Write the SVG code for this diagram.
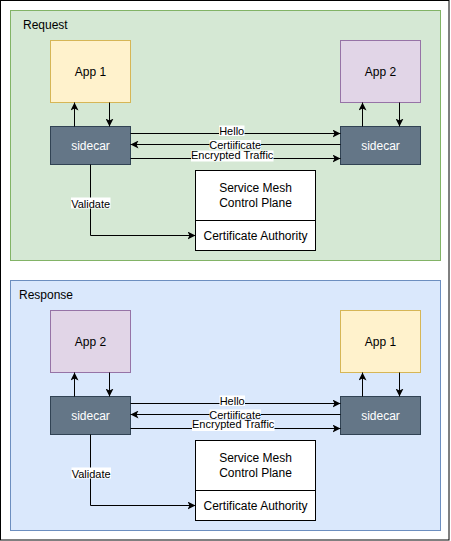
<svg xmlns="http://www.w3.org/2000/svg" width="451" height="541" viewBox="0 0 451 541">
  <defs>
    <style>
      text { font-family: "Liberation Sans", Arial, sans-serif; fill: #000; }
      .t12 { font-size: 12px; }
      .t11 { font-size: 11px; }
      .mid { text-anchor: middle; }
      .app1 { fill: #fff2cc; stroke: #d6b656; stroke-width: 1; }
      .app2 { fill: #e1d5e7; stroke: #9673a6; stroke-width: 1; }
      .side { fill: #647687; stroke: #314354; stroke-width: 1; }
      .sidet { fill: #ffffff; }
      .box { fill: #ffffff; stroke: #000000; stroke-width: 1; }
      .edge { fill: none; stroke: #000000; stroke-width: 1; marker-end: url(#arr); }
      .lbg { fill: #ffffff; }
    </style>
    <marker id="arr" markerUnits="userSpaceOnUse" markerWidth="9" markerHeight="8" refX="8" refY="4" orient="auto">
      <path d="M0,0 L8,4 L0,8 L2,4 Z" fill="#000000"/>
    </marker>
  </defs>

  <rect x="0.5" y="0.5" width="448.5" height="539.5" fill="#ffffff" stroke="#000000"/>

  <!-- Request section -->
  <g id="request">
    <rect x="10.5" y="10.5" width="430" height="250" fill="#d5e8d4" stroke="#82b366"/>
    <text class="t12" x="23" y="29">Request</text>
  </g>
  <g id="req-app1">
    <rect class="app1" x="50.5" y="40.5" width="80" height="62"/>
    <text class="t12 mid" x="90.5" y="75.5">App 1</text>
  </g>
  <g id="req-app2">
    <rect class="app2" x="340.5" y="40.5" width="80" height="62"/>
    <text class="t12 mid" x="380.5" y="75.5">App 2</text>
  </g>
  <g id="req-sidecar1">
    <rect class="side" x="50.5" y="126.5" width="80" height="38"/>
    <text class="t12 mid sidet" x="90.5" y="149.5">sidecar</text>
  </g>
  <g id="req-sidecar2">
    <rect class="side" x="340.5" y="126.5" width="80" height="38"/>
    <text class="t12 mid sidet" x="380.5" y="149.5">sidecar</text>
  </g>
  <g id="req-controlplane">
    <rect class="box" x="195.5" y="170.5" width="120" height="80"/>
    <line x1="195.5" y1="220.5" x2="315.5" y2="220.5" stroke="#000000"/>
    <text class="t12 mid" x="255.5" y="192">Service Mesh</text>
    <text class="t12 mid" x="255.5" y="206.5">Control Plane</text>
    <text class="t12 mid" x="255.5" y="239.5">Certificate Authority</text>
  </g>

  <!-- Response section -->
  <g id="response">
    <rect x="10.5" y="280.5" width="430" height="250" fill="#dae8fc" stroke="#6c8ebf"/>
    <text class="t12" x="19" y="298.5">Response</text>
  </g>
  <g id="resp-app2">
    <rect class="app2" x="50.5" y="310.5" width="80" height="62"/>
    <text class="t12 mid" x="90.5" y="345.5">App 2</text>
  </g>
  <g id="resp-app1">
    <rect class="app1" x="340.5" y="310.5" width="80" height="62"/>
    <text class="t12 mid" x="380.5" y="345.5">App 1</text>
  </g>
  <g id="resp-sidecar1">
    <rect class="side" x="50.5" y="396.5" width="80" height="38"/>
    <text class="t12 mid sidet" x="90.5" y="419.5">sidecar</text>
  </g>
  <g id="resp-sidecar2">
    <rect class="side" x="340.5" y="396.5" width="80" height="38"/>
    <text class="t12 mid sidet" x="380.5" y="419.5">sidecar</text>
  </g>
  <g id="resp-controlplane">
    <rect class="box" x="195.5" y="440.5" width="120" height="80"/>
    <line x1="195.5" y1="490.5" x2="315.5" y2="490.5" stroke="#000000"/>
    <text class="t12 mid" x="255.5" y="462">Service Mesh</text>
    <text class="t12 mid" x="255.5" y="476.5">Control Plane</text>
    <text class="t12 mid" x="255.5" y="509.5">Certificate Authority</text>
  </g>

  <!-- Connectors -->
  <g id="connectors">
    <!-- Request -->
    <path class="edge" d="M74.5,126.5 L74.5,102.5"/>
    <path class="edge" d="M109.5,102.5 L109.5,126.5"/>
    <path class="edge" d="M362.5,126.5 L362.5,102.5"/>
    <path class="edge" d="M399.5,102.5 L399.5,126.5"/>
    <path class="edge" d="M130.5,133.5 L340.5,133.5"/>
    <path class="edge" d="M340.5,144.5 L130.5,144.5"/>
    <path class="edge" d="M130.5,158.5 L340.5,158.5"/>
    <path class="edge" d="M90.5,164.5 L90.5,235.5 L195.5,235.5"/>

    <rect class="lbg" x="219" y="125.5" width="25.5" height="10.5"/>
    <text class="t11 mid" x="231.7" y="135">Hello</text>
    <rect class="lbg" x="209.5" y="140" width="51.5" height="9.5"/>
    <text class="t11 mid" x="235.2" y="149">Certiificate</text>
    <rect class="lbg" x="191" y="150.5" width="82.5" height="11"/>
    <text class="t11 mid" x="232.2" y="158.5">Encrypted Traffic</text>
    <rect class="lbg" x="71" y="197.5" width="39.5" height="11"/>
    <text class="t11 mid" x="90.7" y="207.5">Validate</text>

    <!-- Response -->
    <path class="edge" d="M74.5,396.5 L74.5,372.5"/>
    <path class="edge" d="M109.5,372.5 L109.5,396.5"/>
    <path class="edge" d="M362.5,396.5 L362.5,372.5"/>
    <path class="edge" d="M399.5,372.5 L399.5,396.5"/>
    <path class="edge" d="M130.5,403.5 L340.5,403.5"/>
    <path class="edge" d="M340.5,414.5 L130.5,414.5"/>
    <path class="edge" d="M130.5,428.5 L340.5,428.5"/>
    <path class="edge" d="M90.5,434.5 L90.5,505.5 L195.5,505.5"/>

    <rect class="lbg" x="219.5" y="395.5" width="25.5" height="10.5"/>
    <text class="t11 mid" x="232.2" y="405">Hello</text>
    <rect class="lbg" x="209.5" y="409.5" width="51.5" height="9.5"/>
    <text class="t11 mid" x="235.2" y="418.5">Certiificate</text>
    <rect class="lbg" x="192" y="420" width="82.5" height="11"/>
    <text class="t11 mid" x="233.2" y="428">Encrypted Traffic</text>
    <rect class="lbg" x="71.5" y="467.5" width="39.5" height="11"/>
    <text class="t11 mid" x="91.2" y="477.5">Validate</text>
  </g>
</svg>
